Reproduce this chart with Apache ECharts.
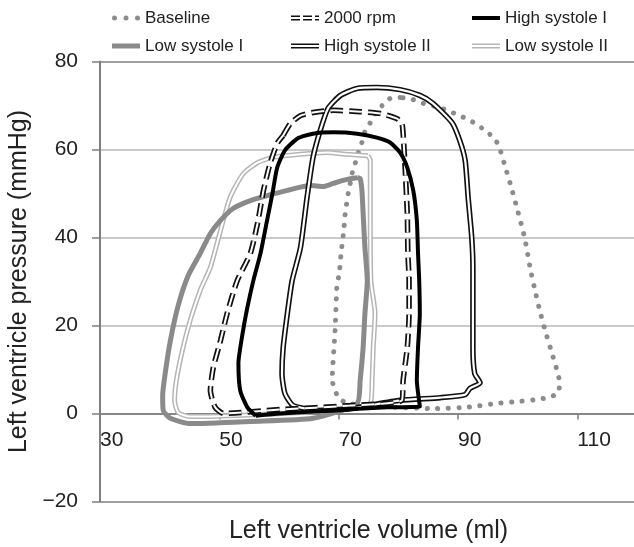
<!DOCTYPE html>
<html>
<head>
<meta charset="utf-8">
<script src="https://cdn.jsdelivr.net/npm/echarts@6/dist/echarts.min.js"></script>
<style>html,body{margin:0;padding:0;background:#fff}#c{width:634px;height:547px}</style>
</head>
<body>
<div id="c"></div>
<script>
// ---- data (volume ml, pressure mmHg) ----
const xTicks = [30, 50, 70, 90, 110];
const yTicks = [-20, 0, 20, 40, 60, 80];

const volBaseline = [80.3,78.6,77.3,76.1,75.3,74.4,73.9,73.3,72.8,72.3,71.6,71.1,70.8,70.4,70.1,69.7,69.4,68.9,69.9,71.4,77.0,85.8,91.5,96.5,99.9,103.4,105.1,106.7,107.1,106.6,105.7,104.6,103.7,102.9,102.1,101.2,99.9,99.0,98.0,97.0,96.2,94.9,93.4,92.0,90.3,88.7,87.0,83.6,82.0,80.3];
const presBaseline = [71.8,71.6,70.0,68.2,66.1,64.1,61.6,59.3,57.0,54.8,50.0,45.5,40.9,36.4,31.8,29.1,18.9,7.5,3.6,2.3,1.6,1.1,1.4,2.3,2.7,3.2,3.6,4.5,6.8,9.8,13.9,18.9,23.4,28.0,33.0,39.8,46.6,51.1,55.7,60.2,62.5,63.9,65.5,66.6,67.7,68.6,69.5,70.7,71.6,71.8];

const vol2000 = [60.7,61.9,63.6,65.7,69.1,73.6,76.9,79.8,80.6,80.8,81.1,81.5,81.6,81.8,81.8,81.5,80.8,80.6,71.9,60.2,50.7,49.3,48.5,49.0,50.2,51.3,53.0,55.2,56.4,57.4,58.5,59.7,60.7];
const pres2000 = [63.2,65.9,67.7,68.4,68.9,68.6,68.2,67.0,65.9,63.6,56.8,45.5,36.4,30.2,22.7,15.0,7.5,3.0,1.8,0.9,0.0,1.4,5.2,10.5,16.6,22.7,30.2,36.4,43.2,50.7,56.8,61.4,63.2];

const volHigh1 = [56.1,54.7,53.5,53.2,53.9,54.7,55.7,56.9,58.0,58.9,59.7,61.0,63.1,65.7,69.1,73.1,76.4,78.6,80.3,81.5,82.5,83.1,83.3,83.5,83.6,83.3,83.1,83.6,78.1,68.6,60.2,56.1];
const presHigh1 = [-0.5,1.4,5.2,11.4,18.2,24.1,30.2,36.4,43.9,50.0,55.9,59.8,62.5,63.6,63.9,63.6,62.7,61.6,59.3,55.9,50.7,43.9,36.4,30.2,22.7,15.0,7.5,1.6,1.4,0.7,0.0,-0.5];

const volLow1 = [73.1,73.6,73.9,74.1,74.4,74.8,74.4,74.1,73.6,73.1,65.7,55.2,45.1,41.8,40.6,40.5,41.0,41.8,43.1,44.8,46.8,48.5,50.2,52.3,55.2,58.0,61.4,65.2,67.4,69.1,71.4,73.1];
const presLow1 = [53.6,53.4,50.7,45.5,37.7,30.2,22.7,15.0,7.5,2.3,-1.1,-1.8,-2.3,-1.1,0.7,4.1,9.8,16.6,24.5,31.4,36.4,40.9,43.9,46.6,48.4,49.5,50.7,51.8,51.6,52.3,53.2,53.6];

const volHigh2 = [66.4,62.4,61.0,60.5,60.7,61.4,62.2,63.6,64.7,65.7,66.9,68.2,70.3,73.1,76.4,80.3,83.6,85.8,89.0,90.3,91.2,91.7,92.3,92.5,92.5,92.5,92.8,93.7,92.0,91.2,87.0,80.3,71.9,66.4];
const presHigh2 = [0.7,1.8,4.5,9.1,15.0,22.7,30.2,37.7,49.1,58.2,64.3,69.3,72.3,73.9,74.1,73.6,72.3,70.5,66.1,62.0,57.5,49.1,40.0,33.2,22.7,15.0,9.1,7.0,5.7,4.3,3.6,3.0,1.1,0.7];

const volLow2 = [74.9,75.3,75.3,75.4,76.1,75.8,75.6,75.3,68.6,56.9,45.1,43.1,42.5,42.8,43.8,45.1,46.8,48.5,50.2,51.8,54.0,56.4,59.0,63.6,68.1,71.4,74.9];
const presLow2 = [58.6,57.5,45.5,30.2,22.7,15.0,7.5,2.3,0.7,-0.2,-0.7,0.2,3.0,7.5,14.3,21.1,28.0,33.2,41.6,49.1,54.5,57.0,58.2,58.9,59.3,58.9,58.6];

const seriesNames = ['Baseline', '2000 rpm', 'High systole I', 'Low systole I', 'High systole II', 'Low systole II'];

// ---- chart ----
const FONT = '"Liberation Sans", Arial, sans-serif';
const zip = (v, p) => v.map((x, i) => [x, p[i]]);

const dotIcon = 'path://M0,2.5a2.5,2.5 0 1,0 5,0a2.5,2.5 0 1,0 -5,0Z M11.5,2.5a2.5,2.5 0 1,0 5,0a2.5,2.5 0 1,0 -5,0Z M23,2.5a2.5,2.5 0 1,0 5,0a2.5,2.5 0 1,0 -5,0Z';
const bar5 = 'path://M0,0H28V5H0Z';
const bar4 = 'path://M0,0H28V4H0Z';
const dbl = 'path://M0,0H28V1.6H0Z M0,3.4H28V5H0Z';
const dblDash = 'path://M0,0H9V1.6H0Z M0,3.4H9V5H0Z M12,0H21V1.6H12Z M12,3.4H21V5H12Z M24,0H28V1.6H24Z M24,3.4H28V5H24Z';

const legendBase = {
  orient: 'vertical', top: 8, itemGap: 8, itemWidth: 28, itemHeight: 6, padding: 0,
  symbolKeepAspect: true,
  itemStyle: { borderWidth: 0 },
  textStyle: { fontSize: 17, color: '#222', lineHeight: 20, fontFamily: FONT }
};

const line = (name, data, color, width, extra) => Object.assign({
  name, type: 'line', data, showSymbol: false, symbol: 'none', smooth: 0.2,
  lineStyle: Object.assign({ color, width }, (extra && extra.ls) || {}),
  itemStyle: { color }, z: (extra && extra.z) || 2, silent: true
}, (extra && extra.opt) || {});

const chart = echarts.init(document.getElementById('c'), null, { renderer: 'canvas' });
chart.setOption({
  animation: false,
  textStyle: { fontFamily: FONT },
  grid: { left: 100, right: -3, top: 61.5, bottom: 45.5, containLabel: false, outerBoundsMode: 'none' },
  legend: [
    Object.assign({}, legendBase, { left: 112, data: [
      { name: seriesNames[0], icon: dotIcon, itemStyle: { color: '#8c8c8c', borderWidth: 0 } },
      { name: seriesNames[3], icon: bar5, itemStyle: { color: '#8a8a8a', borderWidth: 0 } } ] }),
    Object.assign({}, legendBase, { left: 291, data: [
      { name: seriesNames[1], icon: dblDash, itemStyle: { color: '#111', borderWidth: 0 } },
      { name: seriesNames[4], icon: dbl, itemStyle: { color: '#111', borderWidth: 0 } } ] }),
    Object.assign({}, legendBase, { left: 472, data: [
      { name: seriesNames[2], icon: bar4, itemStyle: { color: '#000', borderWidth: 0 } },
      { name: seriesNames[5], icon: dbl, itemStyle: { color: '#b5b5b5', borderWidth: 0 } } ] })
  ],
  xAxis: {
    type: 'value', min: xTicks[0], max: 120, interval: 20,
    axisLine: { onZero: true, lineStyle: { color: '#7f7f7f', width: 1.5 } },
    axisTick: { show: true, length: 6, lineStyle: { color: '#7f7f7f', width: 1.5 } },
    axisLabel: { align: 'left', margin: -72, fontSize: 21, color: '#222', showMaxLabel: false,
      formatter: v => xTicks.includes(v) ? String(v) : '' },
    splitLine: { show: false },
    name: 'Left ventricle volume (ml)', nameLocation: 'middle', nameGap: 17,
    nameTextStyle: { fontSize: 25, color: '#222' }
  },
  yAxis: {
    type: 'value', min: yTicks[0], max: yTicks[yTicks.length - 1], interval: 20,
    axisLine: { show: true, onZero: false, lineStyle: { color: '#7f7f7f', width: 2 } },
    axisTick: { show: true, length: 8, lineStyle: { color: '#7f7f7f', width: 1.5 } },
    axisLabel: { margin: 22, fontSize: 21, color: '#222',
      formatter: v => v < 0 ? '\u2212' + Math.abs(v) : String(v) },
    splitLine: { show: true, lineStyle: { color: ['#808080', '#808080', '#b8b8b8', '#b8b8b8', '#b8b8b8', '#808080'], width: 1.5 } },
    name: 'Left ventricle pressure (mmHg)', nameLocation: 'middle', nameGap: 64,
    nameTextStyle: { fontSize: 25, color: '#222' }
  },
  series: [
    line(seriesNames[0], zip(volBaseline, presBaseline), '#8c8c8c', 5,
      { ls: { type: [0.1, 10.5], cap: 'round' }, opt: { smooth: 0.1 } }),
    line(seriesNames[5], zip(volLow2, presLow2), '#b5b5b5', 5, { z: 3 }),
    line('_low2w', zip(volLow2, presLow2), '#ffffff', 2, { z: 3 }),
    line(seriesNames[3], zip(volLow1, presLow1), '#8a8a8a', 5, { z: 4 }),
    line(seriesNames[4], zip(volHigh2, presHigh2), '#111111', 5.5, { z: 5 }),
    line('_high2w', zip(volHigh2, presHigh2), '#ffffff', 2.2, { z: 5 }),
    line(seriesNames[1], zip(vol2000, pres2000), '#111111', 5.5, { z: 6, ls: { type: [13, 6] } }),
    line('_2000w', zip(vol2000, pres2000), '#ffffff', 2, { z: 6, ls: { type: [13, 6] } }),
    line(seriesNames[2], zip(volHigh1, presHigh1), '#000000', 4, { z: 7 })
  ]
});
</script>
</body>
</html>
